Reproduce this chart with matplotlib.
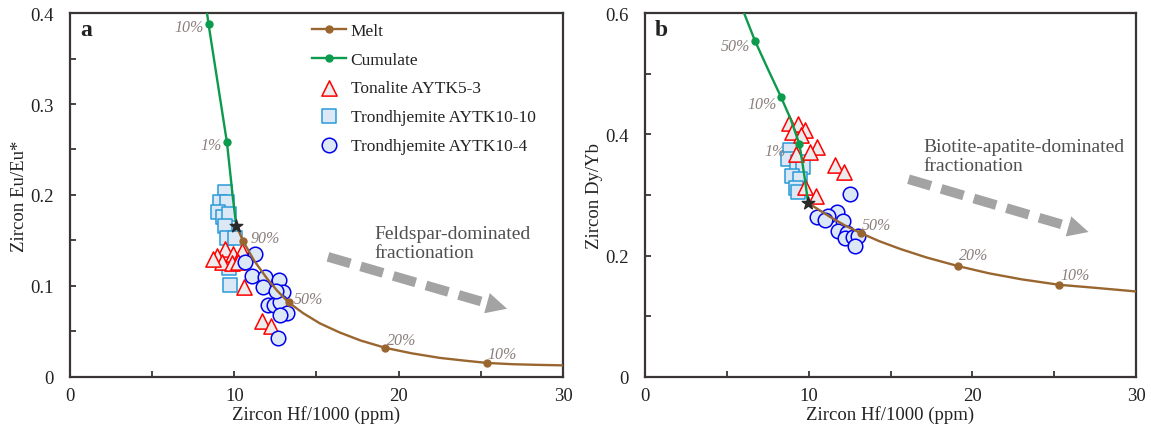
import numpy as np
import matplotlib
matplotlib.use('Agg')
import matplotlib.pyplot as plt

plt.rcParams['font.family'] = ['Liberation Serif', 'DejaVu Serif']
plt.rcParams['mathtext.fontset'] = 'stix'

# ---- data ----
# panel a : Eu/Eu* vs Hf/1000
melt_a_x = [10.12, 10.55, 11.2, 12.0, 12.6, 13.3, 14.2, 15.2, 16.4, 17.7, 19.2, 20.8, 22.5, 24.0, 25.4, 27.0, 28.5, 30.0]
melt_a_y = [0.166, 0.149, 0.128, 0.108, 0.095, 0.082, 0.070, 0.059, 0.049, 0.040, 0.032, 0.026, 0.021, 0.018, 0.0154, 0.0140, 0.0133, 0.0128]
melt_a_marks = [1, 5, 10, 14]
melt_a_labels = ['90%', '50%', '20%', '10%']

cum_a_x = [10.12, 9.92, 9.55, 8.43, 8.34]
cum_a_y = [0.166, 0.196, 0.258, 0.388, 0.400]
cum_a_marks = [2, 3]
cum_a_labels = ['1%', '10%']

tona_a_x = [9.45, 8.95, 9.94, 10.49, 9.27, 9.85, 10.24, 8.72, 10.57, 11.69, 12.26]
tona_a_y = [0.141, 0.133, 0.135, 0.138, 0.126, 0.125, 0.126, 0.130, 0.099, 0.0615, 0.056]

trd10_a_x = [9.41, 9.15, 9.56, 9.01, 9.29, 9.65, 9.45, 9.56, 10.02, 9.65, 9.76]
trd10_a_y = [0.203, 0.192, 0.192, 0.181, 0.176, 0.179, 0.166, 0.153, 0.153, 0.120, 0.101]

trd4_a_x = [11.28, 10.67, 11.10, 11.89, 12.74, 11.77, 12.99, 12.07, 12.44, 12.80, 13.23, 12.80, 12.68, 12.56]
trd4_a_y = [0.135, 0.126, 0.111, 0.110, 0.107, 0.099, 0.093, 0.079, 0.079, 0.082, 0.070, 0.068, 0.043, 0.095]

# panel b : Dy/Yb vs Hf/1000
melt_b_x = [9.96, 10.6, 11.3, 12.2, 13.2, 14.3, 15.6, 17.2, 19.1, 21.0, 23.0, 25.3, 27.5, 30.0]
melt_b_y = [0.287, 0.276, 0.264, 0.250, 0.237, 0.224, 0.211, 0.197, 0.183, 0.171, 0.161, 0.152, 0.147, 0.141]
melt_b_marks = [4, 8, 11]
melt_b_labels = ['50%', '20%', '10%']

cum_b_x = [9.96, 9.8, 9.6, 9.43, 8.9, 8.3, 7.5, 6.72, 6.05]
cum_b_y = [0.287, 0.32, 0.356, 0.384, 0.425, 0.462, 0.508, 0.554, 0.600]
cum_b_marks = [3, 5, 7]
cum_b_labels = ['1%', '10%', '50%']

tona_b_x = [8.80, 9.32, 9.77, 8.98, 9.53, 10.48, 10.05, 9.22, 11.61, 12.16, 9.80, 10.42]
tona_b_y = [0.419, 0.417, 0.407, 0.404, 0.399, 0.379, 0.371, 0.368, 0.349, 0.338, 0.313, 0.298]

trd10_b_x = [8.86, 8.75, 9.35, 9.29, 9.65, 8.98, 9.47, 9.22, 9.32]
trd10_b_y = [0.374, 0.359, 0.354, 0.343, 0.346, 0.331, 0.326, 0.312, 0.305]

trd4_b_x = [12.55, 11.71, 11.20, 10.49, 11.00, 12.11, 11.81, 12.36, 12.22, 12.72, 13.03, 12.83]
trd4_b_y = [0.301, 0.272, 0.266, 0.263, 0.258, 0.257, 0.241, 0.238, 0.229, 0.230, 0.233, 0.216]

# ---- styles ----
c_melt = '#9a6630'
c_cum = '#0c9a4c'
c_pct = '#8a7f7c'
c_arrow = '#a3a3a3'
c_spine = '#3a3434'
fill_blue = '#dce8f5'

fig = plt.figure(figsize=(11.51, 4.31), dpi=100)
ax_a = fig.add_axes([0.0608, 0.123, 0.4283, 0.8445])
ax_b = fig.add_axes([0.5604, 0.123, 0.4266, 0.8445])


def style_axis(ax, ymax, ystep, yfmt):
    ax.set_xlim(0, 30)
    ax.set_ylim(0, ymax)
    ax.set_xticks(np.arange(0, 31, 10))
    ax.set_xticks(np.arange(0, 31, 5), minor=True)
    yt = np.arange(0, ymax + 1e-9, ystep)
    ax.set_yticks(yt)
    ax.set_yticklabels([yfmt(v) for v in yt])
    ax.set_yticks(np.arange(0, ymax + 1e-9, ystep / 2), minor=True)
    ax.tick_params(which='both', direction='in', length=4, width=1.3, color=c_spine,
                   top=False, right=False, labelsize=13.5, colors='#222222')
    ax.tick_params(axis='y', which='both', pad=12)
    ax.tick_params(axis='x', which='both', pad=7)
    for s in ax.spines.values():
        s.set_color(c_spine)
        s.set_linewidth(1.6)
    ax.set_xlabel('Zircon Hf/1000 (ppm)', fontsize=13.5, color='#222222', labelpad=1)


def fmt_a(v):
    return '0' if v == 0 else '%.1f' % v


def draw_panel(ax, tx, ty, qx, qy, cx, cy, mx, my, mm, ml, kx, ky, km, kl, star, offs_m, offs_k):
    ax.scatter(qx, qy, marker='s', s=90, facecolor=fill_blue, edgecolor='#2a9ad8', linewidth=1.1, zorder=3,
               label='Trondhjemite AYTK10-10')
    ax.scatter(tx, ty, marker='^', s=120, facecolor='#ececec', edgecolor='#ff0000', linewidth=1.1, zorder=4,
               label='Tonalite AYTK5-3')
    ax.scatter(cx, cy, marker='o', s=110, facecolor=fill_blue, edgecolor='#0000ee', linewidth=1.1, zorder=5,
               label='Trondhjemite AYTK10-4')
    ax.plot(mx, my, color=c_melt, lw=1.7, marker='o', ms=5, markevery=mm, zorder=6, label='Melt')
    ax.plot(kx, ky, color=c_cum, lw=1.7, marker='o', ms=5, markevery=km, zorder=6, label='Cumulate')
    ax.scatter([star[0]], [star[1]], marker='*', s=90, color='#2a2a2a', zorder=7)
    for i, lab, off in zip(mm, ml, offs_m):
        ax.annotate(lab, (mx[i], my[i]), xytext=off, textcoords='offset pixels', ha='left', va='center',
                    fontsize=11.5, style='italic', color=c_pct, zorder=8)
    for i, lab, off in zip(km, kl, offs_k):
        ax.annotate(lab, (kx[i], ky[i]), xytext=off, textcoords='offset pixels', ha='right', va='center',
                    fontsize=11.5, style='italic', color=c_pct, zorder=8)


def dashed_arrow(ax, start, base, tip):
    ax.plot([start[0], base[0]], [start[1], base[1]], color=c_arrow, lw=7,
            ls=(0, (2.4, 1.1)), solid_capstyle='butt', dash_capstyle='butt', zorder=2)
    ax.annotate('', xy=tip, xytext=base,
                arrowprops=dict(arrowstyle='-|>,head_length=1.5,head_width=0.75', color=c_arrow,
                                lw=0, shrinkA=0, shrinkB=0), zorder=2)


# panel a
style_axis(ax_a, 0.4, 0.1, fmt_a)
draw_panel(ax_a, tona_a_x, tona_a_y, trd10_a_x, trd10_a_y, trd4_a_x, trd4_a_y,
           melt_a_x, melt_a_y, melt_a_marks, melt_a_labels,
           cum_a_x, cum_a_y, cum_a_marks, cum_a_labels, (10.12, 0.166),
           [(7, 3), (5, 3), (2, 8), (0, 9)], [(-5, -3), (-5, -3)])
ax_a.set_ylabel('Zircon Eu/Eu*', fontsize=13.5, color='#222222', labelpad=1)
dashed_arrow(ax_a, (15.7, 0.132), (25.4, 0.081), (26.6, 0.075))
ax_a.text(18.5, 0.167, 'Feldspar-dominated\nfractionation', fontsize=14, color='#505050',
          ha='left', va='top', linespacing=1.12)
ax_a.text(0.02, 0.955, 'a', transform=ax_a.transAxes, fontsize=17, fontweight='bold',
          color='#222222', va='center')

h, l = ax_a.get_legend_handles_labels()
order = [l.index(n) for n in ['Melt', 'Cumulate', 'Tonalite AYTK5-3',
                              'Trondhjemite AYTK10-10', 'Trondhjemite AYTK10-4']]
ax_a.legend([h[i] for i in order], [l[i] for i in order], loc='upper left',
            bbox_to_anchor=(0.49, 0.973), frameon=False, fontsize=12.5, borderpad=0,
            borderaxespad=0, handlelength=2.0, handletextpad=0.25, labelspacing=0.72,
            labelcolor='#222222')

# panel b
style_axis(ax_b, 0.6, 0.2, fmt_a)
draw_panel(ax_b, tona_b_x, tona_b_y, trd10_b_x, trd10_b_y, trd4_b_x, trd4_b_y,
           melt_b_x, melt_b_y, melt_b_marks, melt_b_labels,
           cum_b_x, cum_b_y, cum_b_marks, cum_b_labels, (9.96, 0.287),
           [(1, 8), (1, 11), (1, 10)], [(-14, -7), (-4, -7), (-5, -5)])
ax_b.set_ylabel('Zircon Dy/Yb', fontsize=13.5, color='#222222', labelpad=1)
dashed_arrow(ax_b, (16.1, 0.326), (25.9, 0.248), (27.1, 0.239))
ax_b.text(17.0, 0.394, 'Biotite-apatite-dominated\nfractionation', fontsize=14, color='#505050',
          ha='left', va='top', linespacing=1.12)
ax_b.text(0.02, 0.955, 'b', transform=ax_b.transAxes, fontsize=17, fontweight='bold',
          color='#222222', va='center')

fig.savefig('out.png', dpi=100)
